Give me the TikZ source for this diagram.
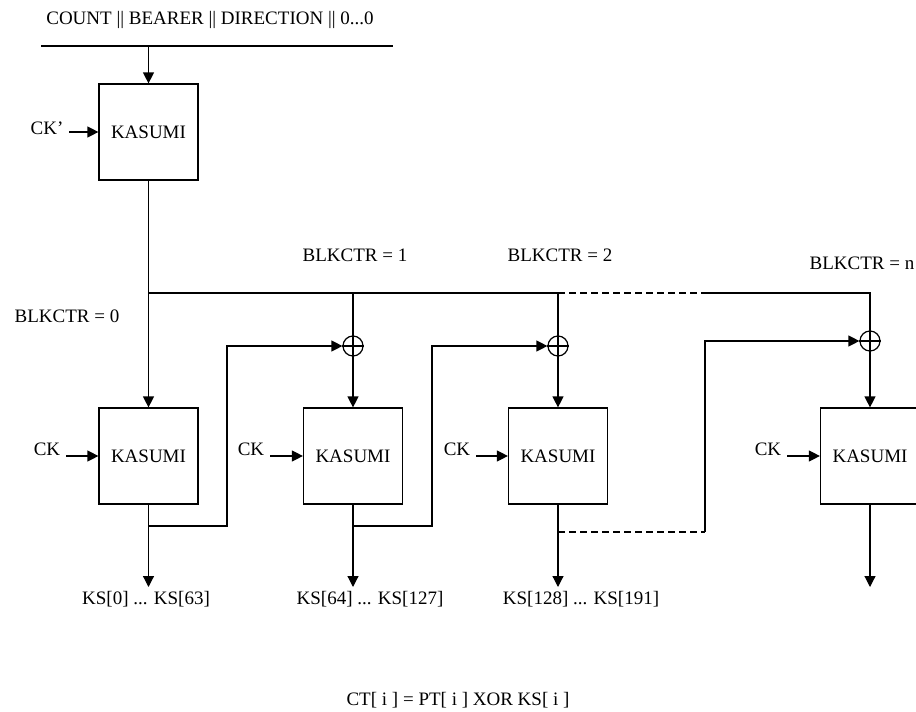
\documentclass[tikz,border=0pt]{standalone}
\usepackage{fontspec}
\setmainfont{Liberation Serif}
\usetikzlibrary{positioning,arrows.meta}

\begin{document}
\begin{tikzpicture}[x=1pt,y=-1pt,line width=1.2pt,
    font=\fontsize{19}{22}\selectfont,
    >={Triangle[length=11pt,width=11pt]},
    kbox/.style={draw,minimum width=99pt,minimum height=96pt,inner sep=0pt},
    xorc/.style={draw,circle,minimum size=20pt,inner sep=0pt},
    dashline/.style={dash pattern=on 7pt off 4pt}]
    \useasboundingbox (0,0) rectangle (916,712);

    % Input block
    \node (iv) at (210,20) {COUNT || BEARER || DIRECTION || 0...0};
    \coordinate (ivl) at (41,46);
    \coordinate (ivr) at (393,46);
    \coordinate (ivm) at (148.5,46);
    \draw (ivl) -- (ivr);

    % First KASUMI with modified key
    \node[kbox] (k0) at (148.5,132) {KASUMI};
    \node (ckp) at (47,128) {CK’};
    \draw[->] (ivm) -- (k0.north);
    \draw[->] ([xshift=2pt]ckp.east |- k0.west) -- (k0.west);

    % KASUMI blocks
    \node[kbox] (k1) at (148.5,456) {KASUMI};
    \node[kbox] (k2) at (353,456) {KASUMI};
    \node[kbox] (k3) at (558,456) {KASUMI};
    \node[kbox] (kn) at (870,456) {KASUMI};

    % XOR gates
    \node[xorc] (x1) at (353,346) {};
    \node[xorc] (x2) at (558,346) {};
    \node[xorc] (xn) at (870,341) {};
    \foreach \x in {x1,x2,xn} {
        \draw (\x.west) -- (\x.east);
        \draw (\x.north) -- (\x.south);
    }

    % Keys
    \node (ck1) at (47,449) {CK};
    \node (ck2) at (251,449) {CK};
    \node (ck3) at (457,449) {CK};
    \node (ckn) at (768,449) {CK};
    \draw[->] ([xshift=2pt]ck1.east |- k1.west) -- (k1.west);
    \draw[->] ([xshift=2pt]ck2.east |- k2.west) -- (k2.west);
    \draw[->] ([xshift=2pt]ck3.east |- k3.west) -- (k3.west);
    \draw[->] ([xshift=2pt]ckn.east |- kn.west) -- (kn.west);

    % Counter bus
    \coordinate (bus0) at (148.5,293);
    \coordinate (bus1) at (353,293);
    \coordinate (bus2) at (558,293);
    \coordinate (busd) at (705,293);
    \coordinate (busn) at (870,293);
    \draw (k0.south) -- (bus0);
    \draw[->] (bus0) -- (k1.north);
    \draw (bus0) -- (bus2);
    \draw[dashline] (bus2) -- (busd);
    \draw (busd) -- (busn) -- (xn.north);
    \draw (bus1) -- (x1.north);
    \draw (bus2) -- (x2.north);
    \draw[->] (x1.south) -- (k2.north);
    \draw[->] (x2.south) -- (k3.north);
    \draw[->] (xn.south) -- (kn.north);

    \node (bl0) at (67,316) {BLKCTR = 0};
    \node (bl1) at (355,255) {BLKCTR = 1};
    \node (bl2) at (560,255) {BLKCTR = 2};
    \node (bln) at (862,263) {BLKCTR = n};

    % Feedback
    \coordinate (f1) at (148.5,526);
    \coordinate (f1r) at (227,526);
    \coordinate (f2) at (353,526);
    \coordinate (f2r) at (432,526);
    \coordinate (f3) at (558,532);
    \coordinate (f3r) at (705,532);
    \draw[->] (f1) -- (f1r) |- (x1.west);
    \draw[->] (f2) -- (f2r) |- (x2.west);
    \draw[dashline] (f3) -- (f3r);
    \draw[->] (f3r) |- (xn.west);

    % Keystream outputs
    \coordinate (o1) at (148.5,587);
    \coordinate (o2) at (353,587);
    \coordinate (o3) at (558,587);
    \coordinate (on) at (870,587);
    \draw[->] (k1.south) -- (o1);
    \draw[->] (k2.south) -- (o2);
    \draw[->] (k3.south) -- (o3);
    \draw[->] (kn.south) -- (on);
    \node (ks1) at (146,599) {KS[0] ... KS[63]};
    \node (ks2) at (370,599) {KS[64] ... KS[127]};
    \node (ks3) at (581,599) {KS[128] ... KS[191]};

    \node (ct) at (458,700) {CT[ i ] = PT[ i ] XOR KS[ i ]};
\end{tikzpicture}
\end{document}
